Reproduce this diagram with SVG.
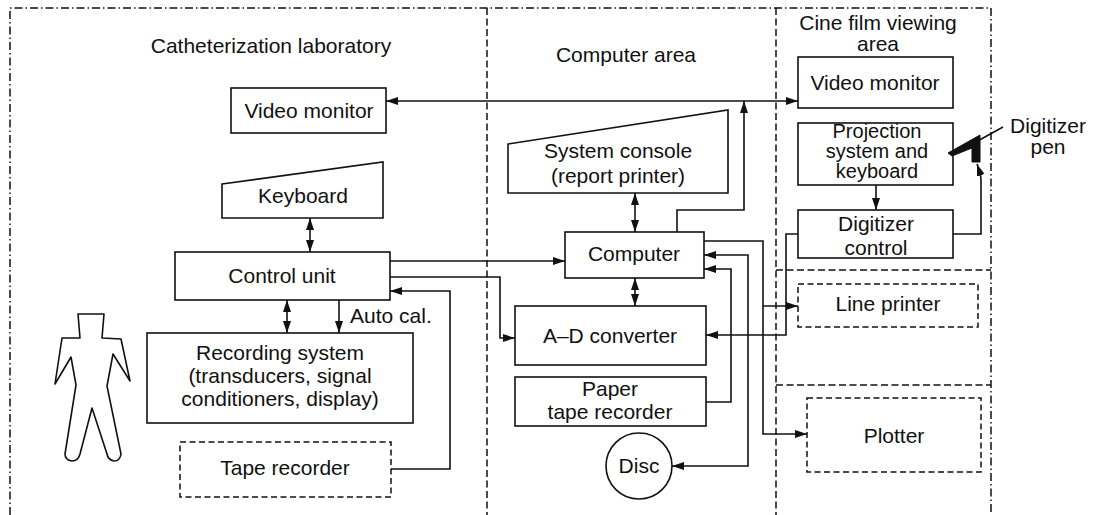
<svg xmlns="http://www.w3.org/2000/svg" width="1099" height="515" viewBox="0 0 1099 515">
  <style>
    .box { fill: #fff; stroke: #111; stroke-width: 1.6; }
    .dbox { fill: none; stroke: #111; stroke-width: 1.5; stroke-dasharray: 6 3.5; }
    .wire { fill: none; stroke: #111; stroke-width: 1.6; }
    .zone { fill: none; stroke: #111; stroke-width: 1.5; stroke-dasharray: 7 3.5; }
    .zone2 { fill: none; stroke: #111; stroke-width: 1.5; stroke-dasharray: 8 3 1.5 3; }
    text { font-family: "Liberation Sans", Arial, sans-serif; font-size: 21px; fill: #111; text-anchor: middle; }
    .tight { font-size: 20px; }
  </style>
  <defs>
    <marker id="ah" viewBox="0 0 12 8" refX="12" refY="4" markerWidth="12" markerHeight="8" markerUnits="userSpaceOnUse" orient="auto-start-reverse">
      <path d="M0,0 L12,4 L0,8 Z" fill="#111"/>
    </marker>
  </defs>

  <!-- room boundaries -->
  <g id="zones">
    <path class="zone2" d="M10,515 V8 H991 V515"/>
    <line class="zone" x1="487" y1="8" x2="487" y2="515"/>
    <line class="zone" x1="776" y1="8" x2="776" y2="515"/>
    <line class="zone" x1="776" y1="270" x2="991" y2="270"/>
    <line class="zone" x1="776" y1="385" x2="991" y2="385"/>
    <text x="271" y="53">Catheterization laboratory</text>
    <text x="626" y="62">Computer area</text>
    <text x="878" y="30">Cine film viewing</text>
    <text x="878" y="51">area</text>
  </g>

  <!-- patient -->
  <g id="patient">
    <path class="wire" stroke-linejoin="round" d="M78,314 L104,314 L102,338 L121,339 L130,381 L113,354 L107,386 L121,454 Q120,461 114,461 Q108,460 107,454 L92,408 L80,454 Q78,461 72,461 Q65,460 65,454 L76,385 L71,357 L55,384 L62,338 L80,338 Z"/>
  </g>

  <g id="video-monitor-lab">
    <rect class="box" x="231" y="88" width="155" height="45"/>
    <text x="309" y="118">Video monitor</text>
  </g>

  <g id="keyboard">
    <path class="box" d="M222,184 L383,162 L383,218 L222,218 Z"/>
    <text x="303" y="203">Keyboard</text>
  </g>

  <g id="control-unit">
    <rect class="box" x="175" y="252" width="215" height="48"/>
    <text x="282" y="283">Control unit</text>
  </g>

  <g id="recording-system">
    <rect class="box" x="147" y="333" width="266" height="90"/>
    <text x="280" y="360">Recording system</text>
    <text x="280" y="383">(transducers, signal</text>
    <text x="280" y="406">conditioners, display)</text>
  </g>

  <g id="tape-recorder">
    <rect class="dbox" x="180" y="442" width="211" height="55"/>
    <text x="285" y="475">Tape recorder</text>
  </g>

  <g id="system-console">
    <path class="box" d="M508,144 L728,110 L728,193 L508,193 Z"/>
    <text x="618" y="158">System console</text>
    <text x="618" y="183">(report printer)</text>
  </g>

  <g id="computer">
    <rect class="box" x="565" y="232" width="139" height="46"/>
    <text x="634" y="261">Computer</text>
  </g>

  <g id="ad-converter">
    <rect class="box" x="515" y="306" width="191" height="59"/>
    <text x="610" y="343">A–D converter</text>
  </g>

  <g id="paper-tape-recorder">
    <rect class="box" x="515" y="377" width="191" height="49"/>
    <text x="610" y="396">Paper</text>
    <text x="610" y="419">tape recorder</text>
  </g>

  <g id="disc">
    <circle class="box" cx="639" cy="466" r="33"/>
    <text x="639" y="473">Disc</text>
  </g>

  <g id="video-monitor-cine">
    <rect class="box" x="798" y="57" width="155" height="51"/>
    <text x="875" y="90">Video monitor</text>
  </g>

  <g id="projection-system">
    <rect class="box" x="798" y="123" width="155" height="62"/>
    <text class="tight" x="877" y="138">Projection</text>
    <text class="tight" x="877" y="158">system and</text>
    <text class="tight" x="877" y="178">keyboard</text>
  </g>

  <g id="digitizer-control">
    <rect class="box" x="798" y="210" width="155" height="48"/>
    <text x="876" y="231">Digitizer</text>
    <text x="876" y="255">control</text>
  </g>

  <g id="digitizer-pen">
    <path d="M948,153 L980,135 L980,162 L972,162 L972,148 L952,156 Z" fill="#111" stroke="#111" stroke-width="1"/>
    <line class="wire" x1="974" y1="143" x2="1003" y2="127"/>
    <text x="1048" y="133">Digitizer</text>
    <text x="1048" y="154">pen</text>
  </g>

  <g id="line-printer">
    <rect class="dbox" x="798" y="284" width="180" height="43"/>
    <text x="888" y="311">Line printer</text>
  </g>

  <g id="plotter">
    <rect class="dbox" x="807" y="398" width="174" height="74"/>
    <text x="894" y="443">Plotter</text>
  </g>

  <!-- signal paths -->
  <g id="connectors">
    <line class="wire" x1="386" y1="101" x2="798" y2="101" marker-start="url(#ah)" marker-end="url(#ah)"/>
    <path class="wire" d="M677,232 V210 H744 V101" marker-end="url(#ah)"/>
    <line class="wire" x1="310" y1="218" x2="310" y2="252" marker-start="url(#ah)" marker-end="url(#ah)"/>
    <line class="wire" x1="287" y1="300" x2="287" y2="333" marker-start="url(#ah)" marker-end="url(#ah)"/>
    <line class="wire" x1="339" y1="300" x2="339" y2="333" marker-end="url(#ah)"/>
    <text x="350" y="323" style="text-anchor:start">Auto cal.</text>
    <path class="wire" d="M391,469 H450 V291 H390" marker-end="url(#ah)"/>
    <line class="wire" x1="390" y1="261" x2="565" y2="261" marker-end="url(#ah)"/>
    <path class="wire" d="M390,277 H500 V338 H515" marker-end="url(#ah)"/>
    <line class="wire" x1="635" y1="193" x2="635" y2="232" marker-start="url(#ah)" marker-end="url(#ah)"/>
    <line class="wire" x1="635" y1="278" x2="635" y2="306" marker-start="url(#ah)" marker-end="url(#ah)"/>
    <path class="wire" d="M704,241 H763 V434 H807" marker-end="url(#ah)"/>
    <line class="wire" x1="763" y1="306" x2="798" y2="306" marker-end="url(#ah)"/>
    <path class="wire" d="M672,466 H748 V255 H704" marker-start="url(#ah)" marker-end="url(#ah)"/>
    <path class="wire" d="M706,402 H731 V269 H704" marker-end="url(#ah)"/>
    <path class="wire" d="M798,234 H786 V335 H706" marker-end="url(#ah)"/>
    <line class="wire" x1="876" y1="185" x2="876" y2="210" marker-end="url(#ah)"/>
    <path class="wire" d="M953,234 H981 V180 C981,174 979,170 977,164" marker-end="url(#ah)"/>
  </g>
</svg>
